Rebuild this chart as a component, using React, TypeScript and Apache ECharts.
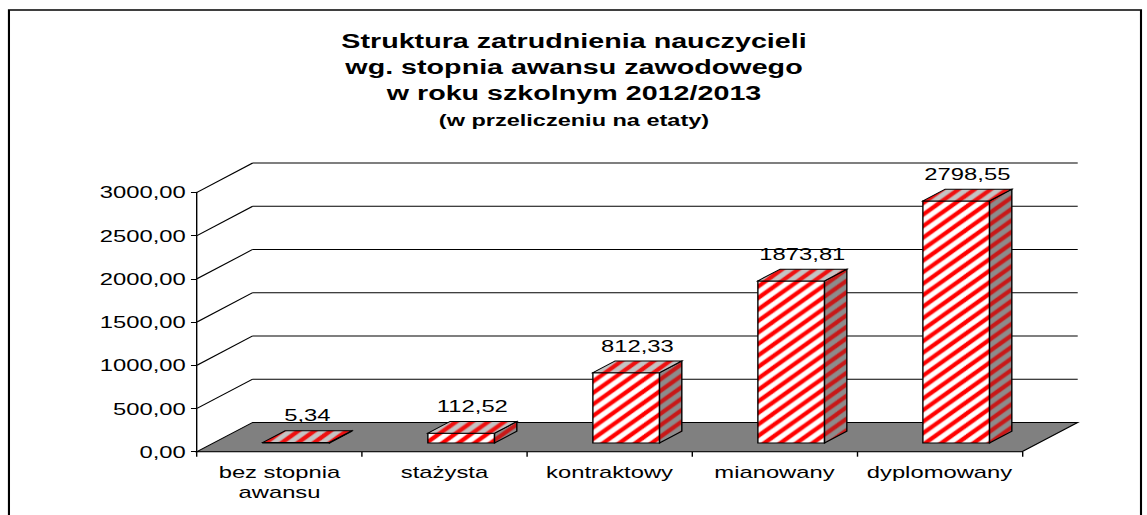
import React, { useEffect, useRef } from 'react';
import * as echarts from 'echarts';

// ---- data ----
const categories = ['bez stopnia\nawansu', 'stażysta', 'kontraktowy', 'mianowany', 'dyplomowany'];
const values = [5.34, 112.52, 812.33, 1873.81, 2798.55];
const yTicks = [0, 500, 1000, 1500, 2000, 2500, 3000];
const yMin = 0;
const yMax = 3000;
const yStep = 500;
const titleLines = [
  'Struktura zatrudnienia nauczycieli',
  'wg. stopnia awansu zawodowego',
  'w roku szkolnym 2012/2013',
];
const subtitleLine = '(w przeliczeniu na etaty)';

// ---- layout (drawn in an unstretched space, then stretched horizontally like the original) ----
const SX = 1.4;
const W = 820;
const H = 515;
const FONT = '"Liberation Sans", Arial, Helvetica, sans-serif';
const DX = 39.8; // depth offset of the back wall
const DY = -29.3;
const D0 = 0.3; // bar front depth fraction
const D1 = 0.7; // bar back depth fraction
const BAR_FRAC = 0.404;

const fmt = (v: number) => v.toFixed(2).replace('.', ',');

function stripes(bg: string, fg: string) {
  const n = 48;
  const c = document.createElement('canvas');
  c.width = n;
  c.height = n;
  const g = c.getContext('2d')!;
  g.fillStyle = bg;
  g.fillRect(0, 0, n, n);
  g.strokeStyle = fg;
  g.lineWidth = (12 / Math.SQRT2) * 0.45;
  for (let k = -2 * n; k <= 2 * n; k += 12) {
    g.beginPath();
    g.moveTo(k - n, 2 * n);
    g.lineTo(k + 2 * n, -n);
    g.stroke();
  }
  return { image: c.toDataURL(), repeat: 'repeat', imageWidth: 46, imageHeight: 46 };
}

export default function App() {
  const ref = useRef<HTMLDivElement>(null);

  useEffect(() => {
    if (!ref.current) return;
    const chart = echarts.init(ref.current, undefined, { renderer: 'svg' });

    const frontFill = stripes('#ffffff', '#ff0000');
    const topFill = stripes('#c4c4c4', '#ee1010');
    const sideFill = stripes('#8c8c8c', '#c81818');

    const wallData = yTicks.map((v) => [0, v]);
    const barData = values.map((v, i) => [i, v]);

    const option: any = {
      animation: false,
      grid: {
        left: 140.7,
        right: 90,
        top: 192.3,
        bottom: 63.3,
        containLabel: false,
        outerBoundsMode: 'none',
      },
      xAxis: {
        type: 'category',
        data: categories,
        axisLine: { show: true, lineStyle: { color: '#000', width: 1 } },
        axisTick: { show: true, length: 5, lineStyle: { color: '#000', width: 1 } },
        axisLabel: {
          interval: 0,
          color: '#000',
          fontSize: 17,
          fontFamily: FONT,
          lineHeight: 20,
          margin: 10,
        },
        splitLine: { show: false },
      },
      yAxis: {
        type: 'value',
        min: yMin,
        max: yMax,
        interval: yStep,
        axisLine: { show: true, lineStyle: { color: '#000', width: 1 } },
        axisTick: { show: true, length: 4.3, lineStyle: { color: '#000', width: 1 } },
        axisLabel: {
          formatter: (v: number) => fmt(v),
          color: '#000',
          fontSize: 17,
          fontFamily: FONT,
          margin: 8,
        },
        splitLine: { show: false },
      },
      series: [
        {
          type: 'custom',
          z: 1,
          clip: false,
          silent: true,
          data: wallData,
          encode: { x: 0, y: 1 },
          renderItem: (params: any, api: any) => {
            const v = api.value(1);
            const y = api.coord([0, v])[1];
            const cs = params.coordSys;
            const left = cs.x;
            const right = cs.x + cs.width;
            const children: any[] = [];
            if (v === yMin) {
              children.push({
                type: 'polygon',
                shape: {
                  points: [
                    [left, y],
                    [left + DX, y + DY],
                    [right + DX, y + DY],
                    [right, y],
                  ],
                },
                style: { fill: '#808080', stroke: '#000', lineWidth: 1 },
              });
            } else {
              children.push({
                type: 'line',
                shape: { x1: left, y1: y, x2: left + DX, y2: y + DY },
                style: { stroke: '#000', lineWidth: 1 },
              });
              children.push({
                type: 'line',
                shape: { x1: left + DX, y1: y + DY, x2: right + DX, y2: y + DY },
                style: { stroke: '#000', lineWidth: 1 },
              });
            }
            return { type: 'group', children };
          },
        },
        {
          type: 'custom',
          z: 3,
          clip: false,
          data: barData,
          encode: { x: 0, y: 1 },
          renderItem: (params: any, api: any) => {
            const i = api.value(0);
            const v = api.value(1);
            const pTop = api.coord([i, v]);
            const pBase = api.coord([i, 0]);
            const bw = (api.size([1, 0]) as number[])[0];
            const w = bw * BAR_FRAC;
            const ox = D0 * DX;
            const oy = D0 * DY;
            const x0 = pTop[0] - w / 2 + ox;
            const x1 = pTop[0] + w / 2 + ox;
            const yT = pTop[1] + oy;
            const yB = pBase[1] + oy;
            const ddx = (D1 - D0) * DX;
            const ddy = (D1 - D0) * DY;
            const edge = { stroke: '#000', lineWidth: 1 };
            return {
              type: 'group',
              children: [
                {
                  type: 'polygon',
                  shape: { points: [[x0, yT], [x1, yT], [x1, yB], [x0, yB]] },
                  style: { fill: frontFill, ...edge },
                },
                {
                  type: 'polygon',
                  shape: {
                    points: [[x1, yT], [x1 + ddx, yT + ddy], [x1 + ddx, yB + ddy], [x1, yB]],
                  },
                  style: { fill: sideFill, ...edge },
                },
                {
                  type: 'polygon',
                  shape: {
                    points: [[x0, yT], [x1, yT], [x1 + ddx, yT + ddy], [x0 + ddx, yT + ddy]],
                  },
                  style: { fill: topFill, ...edge },
                },
                {
                  type: 'text',
                  x: (x0 + x1) / 2 + ddx / 2,
                  y: yT + ddy - 7,
                  style: {
                    text: fmt(v),
                    fill: '#000',
                    fontSize: 17,
                    fontFamily: FONT,
                    align: 'center',
                    verticalAlign: 'bottom',
                  },
                },
              ],
            };
          },
        },
      ],
      graphic: [
        {
          type: 'rect',
          z: -10,
          silent: true,
          shape: { x: 6.4, y: 10, width: 815 - 6.4, height: 600 },
          style: { fill: 'none', stroke: '#000', lineWidth: 1.5 },
        },
        ...titleLines.map((t, k) => ({
          type: 'text',
          x: W / 2,
          y: 40.2 + k * 26.3,
          silent: true,
          style: {
            text: t,
            fill: '#000',
            fontSize: 20.5,
            fontWeight: 'bold',
            fontFamily: FONT,
            align: 'center',
            verticalAlign: 'middle',
          },
        })),
        {
          type: 'text',
          x: W / 2,
          y: 120.5,
          silent: true,
          style: {
            text: subtitleLine,
            fill: '#000',
            fontSize: 16.8,
            fontWeight: 'bold',
            fontFamily: FONT,
            align: 'center',
            verticalAlign: 'middle',
          },
        },
      ],
    };

    chart.setOption(option);
    return () => {
      chart.dispose();
    };
  }, []);

  return (
    <div
      style={{
        position: 'fixed',
        left: 0,
        top: 0,
        width: 1147,
        height: 515,
        overflow: 'hidden',
        background: '#fff',
      }}
    >
      <div
        ref={ref}
        style={{ width: W, height: H, transform: `scaleX(${SX})`, transformOrigin: '0 0' }}
      />
    </div>
  );
}
